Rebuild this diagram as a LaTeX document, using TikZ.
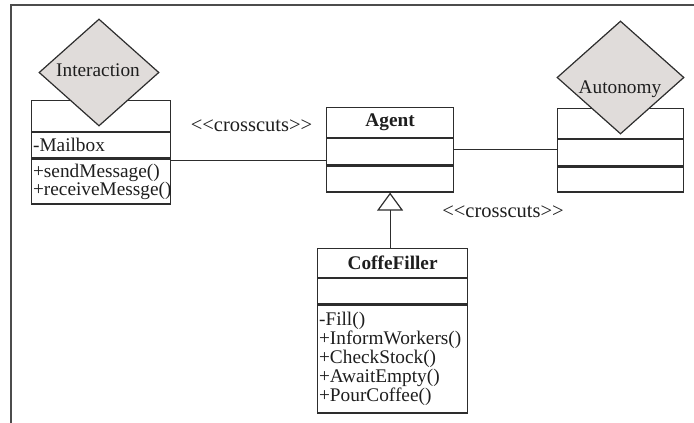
\documentclass[tikz,border=0pt]{standalone}
\usepackage{fontspec}
\setmainfont{Liberation Serif}
\usetikzlibrary{shapes.geometric,arrows.meta}
\definecolor{dgray}{RGB}{45,45,45}
\definecolor{dfill}{RGB}{224,220,218}
\definecolor{txt}{RGB}{30,30,30}
\begin{document}
\begin{tikzpicture}[x=1pt,y=-1pt,
  every node/.style={font=\fontsize{19.3}{19}\selectfont, text=txt},
  comp/.style={draw=dgray, line width=1.2pt, inner sep=0pt, anchor=north west},
  ops/.style={comp, align=left, font=\fontsize{19.3}{19}\selectfont},
  dia/.style={diamond, draw=dgray, fill=dfill, line width=1.2pt, inner sep=0pt},
  conn/.style={draw=dgray, line width=1pt},
  inherit/.style={draw=dgray, line width=1.2pt, -{Triangle[open,length=18pt,width=26pt]}}
]
\useasboundingbox (0,0) rectangle (694,423);
\draw[line width=1.6pt, draw=black!70] (694,5) -- (11,5) -- (11,423);

% Interaction class
\node[comp, minimum width=139pt, minimum height=31pt] (iTop) at (31,100) {};
\node[comp, minimum width=139pt, minimum height=25pt, text width=136pt, align=left] (iAttr) at (iTop.south west) {-Mailbox};
\node[ops, minimum width=139pt, minimum height=45pt, text width=136pt, font=\fontsize{19.3}{18}\selectfont] (iOps) at (iAttr.south west) {+sendMessage()\\+receiveMessge()};
\node[dia, minimum width=120pt, minimum height=107pt] (iDia) at (99,72.5) {};
\node (iLbl) at (98,70) {Interaction};

% Agent class
\node[comp, minimum width=127pt, minimum height=30pt] (aTop) at (326,107) {\textbf{Agent}};
\node[comp, minimum width=127pt, minimum height=26pt] (aMid) at (aTop.south west) {};
\node[comp, minimum width=127pt, minimum height=26pt] (aBot) at (aMid.south west) {};

% Autonomy class
\node[comp, minimum width=126pt, minimum height=30pt] (uTop) at (557,108) {};
\node[comp, minimum width=126pt, minimum height=26pt] (uMid) at (uTop.south west) {};
\node[comp, minimum width=126pt, minimum height=25pt] (uBot) at (uMid.south west) {};
\node[dia, minimum width=127pt, minimum height=113pt] (uDia) at (620.5,77.5) {};
\node (uLbl) at (620,89) {Autonomy};

% CoffeFiller class
\node[comp, minimum width=150pt, minimum height=29pt] (cTop) at (317,248) {\textbf{CoffeFiller}};
\node[comp, minimum width=150pt, minimum height=25pt] (cMid) at (cTop.south west) {};
\node[ops, minimum width=150pt, minimum height=108pt, text width=147pt] (cOps) at (cMid.south west) {-Fill()\\+InformWorkers()\\+CheckStock()\\+AwaitEmpty()\\+PourCoffee()};

% connectors
\draw[conn] ([yshift=-2pt]iOps.north east) -- ([yshift=-2pt]iOps.north east -| aMid.west);
\draw[conn] ([yshift=2pt]aMid.east) -- ([yshift=2pt]aMid.east -| uMid.west);
\draw[inherit] (cTop.north -| aBot.south) -- (aBot.south);

% stereotype labels
\node[font=\fontsize{20.5}{20}\selectfont] (cc1) at (251.5,126) {<{}<crosscuts>{}>};
\node[font=\fontsize{20.5}{20}\selectfont] (cc2) at (503,212) {<{}<crosscuts>{}>};
\end{tikzpicture}
\end{document}
